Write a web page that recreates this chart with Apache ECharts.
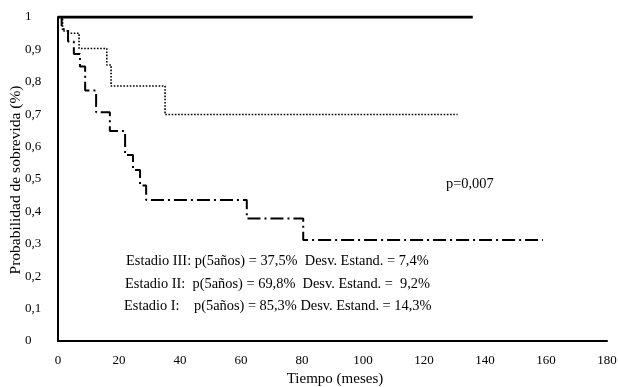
<!DOCTYPE html>
<html>
<head>
<meta charset="utf-8">
<script src="https://cdn.jsdelivr.net/npm/echarts@6/dist/echarts.min.js"></script>
<style>
html,body{margin:0;padding:0;background:#fff;}
#c{width:618px;height:387px;}
</style>
</head>
<body>
<div id="c"></div>
<script>
// Data
const xTicks = [0, 20, 40, 60, 80, 100, 120, 140, 160, 180];
const stage1Times = [0, 136];
const stage1Surv  = [1, 1];
const stage2Times = [0, 1.5, 3.2, 6.9, 16.0, 17.4, 35.1, 131];
const stage2Surv  = [1, 0.957, 0.95, 0.903, 0.852, 0.787, 0.699, 0.699];
const stage3Times = [0, 1.2, 3.3, 5.2, 7.2, 8.9, 12.5, 17.0, 22.0, 24.6, 26.9, 28.9, 61.9, 80.4, 159];
const stage3Surv  = [1, 0.962, 0.924, 0.886, 0.847, 0.773, 0.706, 0.648, 0.574, 0.528, 0.48, 0.435, 0.378, 0.312, 0.312];
const annotations = [
  'Estadio III: p(5años) = 37,5%  Desv. Estand. = 7,4%',
  'Estadio II:  p(5años) = 69,8%  Desv. Estand. =  9,2%',
  'Estadio I:    p(5años) = 85,3% Desv. Estand. = 14,3%'
];
const pValueText = 'p=0,007';
const xName = 'Tiempo (meses)';
const yName = 'Probabilidad de sobrevida (%)';

const FONT = '"Liberation Serif", "Times New Roman", serif';
const zip = (t, s) => t.map((v, i) => [v, s[i]]);

const chart = echarts.init(document.getElementById('c'), null, {renderer: 'canvas'});
const option = {
  animation: false,
  backgroundColor: '#fff',
  grid: {left: 58, right: 11, top: 17, bottom: 46, containLabel: false, outerBoundsMode: 'none'},
  xAxis: {
    type: 'value', min: xTicks[0], max: xTicks[xTicks.length - 1], interval: 20,
    axisLine: {show: true, lineStyle: {color: '#000', width: 2}},
    axisTick: {show: false},
    splitLine: {show: false},
    axisLabel: {fontFamily: FONT, fontSize: 13, color: '#000', margin: 13}
  },
  yAxis: {
    type: 'value', min: 0, max: 1, interval: 0.1,
    axisLine: {show: true, lineStyle: {color: '#000', width: 2}},
    axisTick: {show: false},
    splitLine: {show: false},
    axisLabel: {
      fontFamily: FONT, fontSize: 13, color: '#000', align: 'left', margin: 33,
      formatter: v => String(Math.round(v * 10) / 10).replace('.', ',')
    }
  },
  series: [
    {
      name: 'Estadio I', type: 'line', step: 'end', symbol: 'none',
      data: zip(stage1Times, stage1Surv),
      lineStyle: {color: '#000', width: 3, type: 'solid'}, z: 3
    },
    {
      name: 'Estadio II', type: 'line', step: 'end', symbol: 'none',
      data: zip(stage2Times, stage2Surv),
      lineStyle: {color: '#000', width: 1.6, type: [1.6, 1.6]}, z: 2
    },
    {
      name: 'Estadio III', type: 'line', step: 'end', symbol: 'none',
      data: zip(stage3Times, stage3Surv),
      lineStyle: {color: '#000', width: 2, type: [13, 4, 2, 4]}, z: 2
    }
  ],
  graphic: [
    {type: 'text', x: 335, y: 379, style: {text: xName, font: '15px ' + FONT, fill: '#000', align: 'center', verticalAlign: 'middle'}},
    {type: 'text', x: 16, y: 180, rotation: Math.PI / 2, style: {text: yName, font: '15.5px ' + FONT, fill: '#000', align: 'center', verticalAlign: 'middle'}},
    {type: 'text', left: 126, top: 254, style: {text: annotations[0], font: '14.4px ' + FONT, fill: '#000'}},
    {type: 'text', left: 125, top: 277, style: {text: annotations[1], font: '14.4px ' + FONT, fill: '#000'}},
    {type: 'text', left: 124, top: 299, style: {text: annotations[2], font: '14.4px ' + FONT, fill: '#000'}},
    {type: 'text', left: 446, top: 177, style: {text: pValueText, font: '14.4px ' + FONT, fill: '#000'}}
  ]
};
chart.setOption(option);
</script>
</body>
</html>
